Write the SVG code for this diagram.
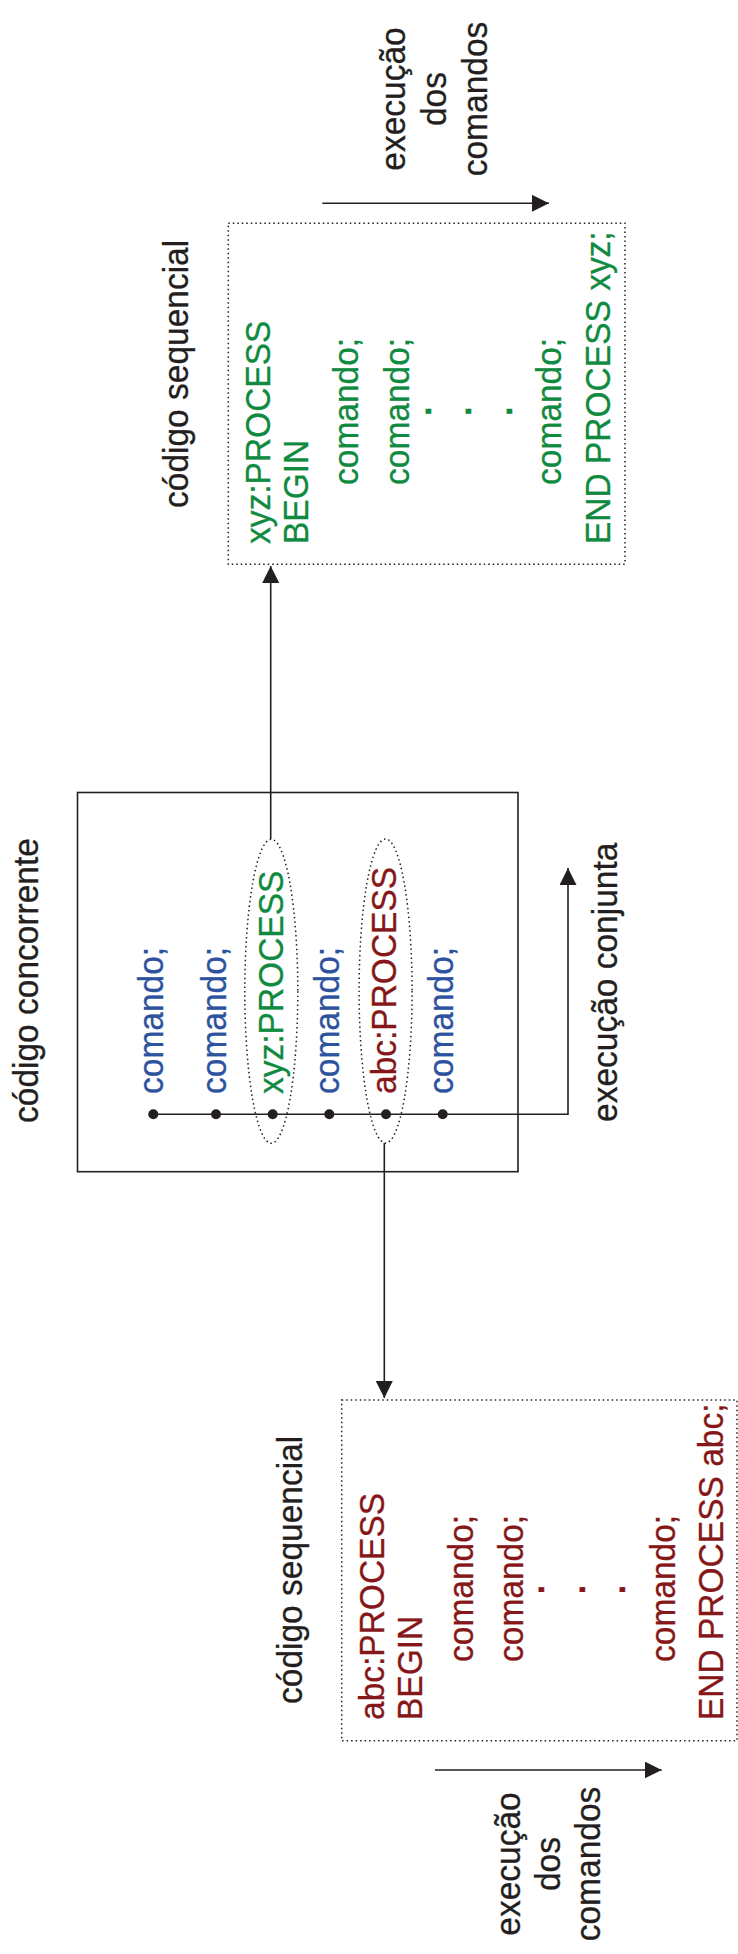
<svg xmlns="http://www.w3.org/2000/svg" width="738" height="1954" viewBox="0 0 738 1954">
<defs>
<marker id="arr" markerUnits="userSpaceOnUse" markerWidth="18" markerHeight="17" refX="17" refY="8.5" orient="auto">
<path d="M0,0 L17,8.5 L0,17 Z" fill="#231f20"/>
</marker>
<style>
text{font-family:"Liberation Sans",Arial,Helvetica,sans-serif;font-size:33.5px;stroke-width:0.3}
.k{fill:#231f20;stroke:#231f20}
.b{fill:#2d52a0;stroke:#2d52a0}
.g{fill:#0f8a3f;stroke:#0f8a3f}
.r{fill:#861719;stroke:#861719}
.m{text-anchor:middle}
.pt{font-weight:bold}
.dot{fill:none;stroke:#231f20;stroke-width:1.5;stroke-dasharray:1.5 3}
.sol{fill:none;stroke:#231f20;stroke-width:1.6}
.ln{fill:none;stroke:#231f20;stroke-width:1.6}
</style>
</defs>

<g id="top-exec-label">
<text class="k m" transform="translate(405,99) rotate(-90) scale(1,1.07)">execução</text>
<text class="k m" transform="translate(446,99) rotate(-90) scale(1,1.07)">dos</text>
<text class="k m" transform="translate(487,99) rotate(-90) scale(1,1.07)">comandos</text>
</g>

<g id="top-seq">
<text class="k" transform="translate(188,508) rotate(-90) scale(1,1.07)">código sequencial</text>
<rect class="dot" x="228.3" y="223.3" width="396.7" height="341"/>
<text class="g" transform="translate(269.5,544) rotate(-90) scale(1,1.07)">xyz:PROCESS</text>
<text class="g" transform="translate(308.3,544) rotate(-90) scale(1,1.07)">BEGIN</text>
<text class="g" transform="translate(358.3,485) rotate(-90) scale(1,1.07)">comando;</text>
<text class="g" transform="translate(409,485) rotate(-90) scale(1,1.07)">comando;</text>
<text class="g pt" transform="translate(430.5,416) rotate(-90) scale(1,1.07)">.</text>
<text class="g pt" transform="translate(470.5,416) rotate(-90) scale(1,1.07)">.</text>
<text class="g pt" transform="translate(511.5,416) rotate(-90) scale(1,1.07)">.</text>
<text class="g" transform="translate(561,485) rotate(-90) scale(1,1.07)">comando;</text>
<text class="g" transform="translate(610,544) rotate(-90) scale(1,1.07)">END PROCESS xyz;</text>
</g>

<g id="concurrent">
<text class="k" transform="translate(38,1123) rotate(-90) scale(1,1.07)">código concorrente</text>
<rect class="sol" x="77.5" y="792.5" width="440.5" height="379.2"/>
<text class="b" transform="translate(163.3,1094) rotate(-90) scale(1,1.07)">comando;</text>
<text class="b" transform="translate(226,1094) rotate(-90) scale(1,1.07)">comando;</text>
<text class="g" transform="translate(283,1094) rotate(-90) scale(1,1.07)">xyz:PROCESS</text>
<text class="b" transform="translate(339.3,1094) rotate(-90) scale(1,1.07)">comando;</text>
<text class="r" transform="translate(396,1094) rotate(-90) scale(1,1.07)">abc:PROCESS</text>
<text class="b" transform="translate(452.7,1094) rotate(-90) scale(1,1.07)">comando;</text>
<ellipse class="dot" cx="271.3" cy="991.3" rx="26.5" ry="152"/>
<ellipse class="dot" cx="385.6" cy="991" rx="26.5" ry="152"/>
<g fill="#231f20">
<circle cx="153.3" cy="1114.3" r="5"/>
<circle cx="216" cy="1114.3" r="5"/>
<circle cx="272.7" cy="1114.3" r="5"/>
<circle cx="329.3" cy="1114.3" r="5"/>
<circle cx="386" cy="1114.3" r="5"/>
<circle cx="442.7" cy="1114.3" r="5"/>
</g>
<text class="k" transform="translate(617,1122) rotate(-90) scale(1,1.07)">execução conjunta</text>
</g>

<g id="bottom-seq">
<text class="k" transform="translate(302,1704) rotate(-90) scale(1,1.07)">código sequencial</text>
<rect class="dot" x="341.7" y="1400" width="395.3" height="340.8"/>
<text class="r" transform="translate(384,1720) rotate(-90) scale(1,1.07)">abc:PROCESS</text>
<text class="r" transform="translate(421.7,1720) rotate(-90) scale(1,1.07)">BEGIN</text>
<text class="r" transform="translate(473,1662) rotate(-90) scale(1,1.07)">comando;</text>
<text class="r" transform="translate(523,1662) rotate(-90) scale(1,1.07)">comando;</text>
<text class="r pt" transform="translate(544,1594.2) rotate(-90) scale(1,1.07)">.</text>
<text class="r pt" transform="translate(584.6,1594.2) rotate(-90) scale(1,1.07)">.</text>
<text class="r pt" transform="translate(625,1594.2) rotate(-90) scale(1,1.07)">.</text>
<text class="r" transform="translate(675,1662) rotate(-90) scale(1,1.07)">comando;</text>
<text class="r" transform="translate(723,1720) rotate(-90) scale(1,1.07)">END PROCESS abc;</text>
</g>

<g id="bottom-exec-label">
<text class="k m" transform="translate(520,1864) rotate(-90) scale(1,1.07)">execução</text>
<text class="k m" transform="translate(560,1864) rotate(-90) scale(1,1.07)">dos</text>
<text class="k m" transform="translate(600,1864) rotate(-90) scale(1,1.07)">comandos</text>
</g>

<g id="connectors">
<line class="ln" x1="322.3" y1="203.3" x2="549" y2="203.3" marker-end="url(#arr)"/>
<line class="ln" x1="270.7" y1="839" x2="270.7" y2="566" marker-end="url(#arr)"/>
<line class="ln" x1="384.3" y1="1143" x2="384.3" y2="1398" marker-end="url(#arr)"/>
<polyline class="ln" points="153.3,1114.3 568,1114.3 568,868" marker-end="url(#arr)"/>
<line class="ln" x1="435" y1="1770" x2="661.7" y2="1770" marker-end="url(#arr)"/>
</g>
</svg>
